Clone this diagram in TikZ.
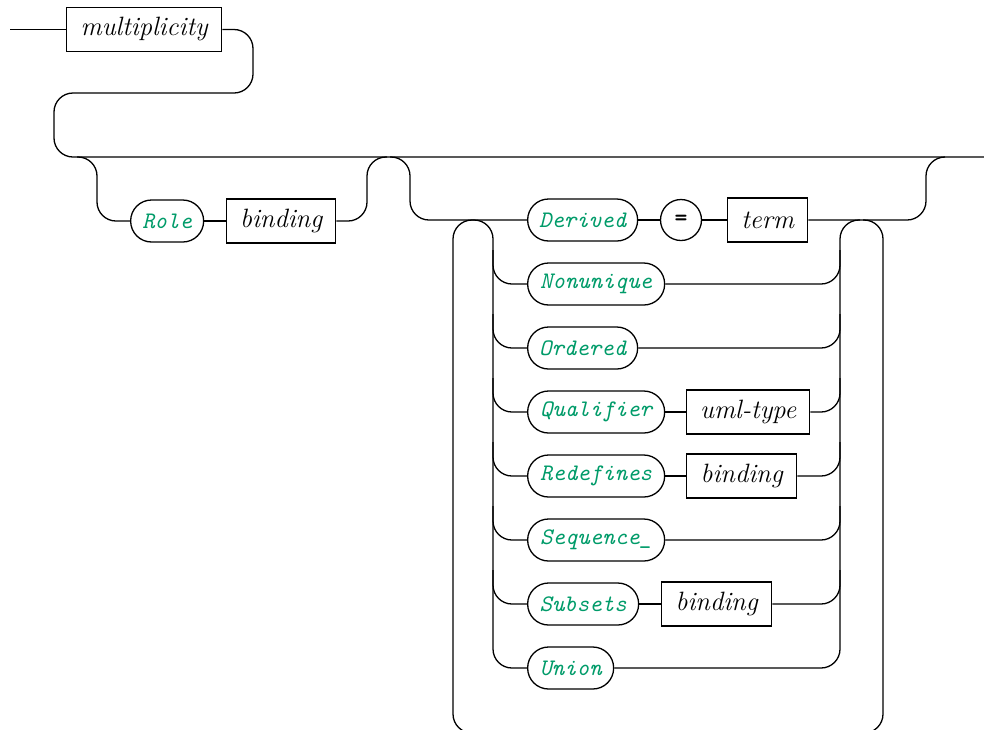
\documentclass[tikz,border=0pt]{standalone}
\usepackage{fontspec}
\definecolor{kwgreen}{RGB}{0,155,105}
\tikzset{
  rc/.style={rounded corners=19pt},
  ntbox/.style={draw, line width=1.3pt, rectangle, minimum height=44pt, inner sep=0pt,
    anchor=west, font=\rmfamily\itshape\fontsize{26.5}{30}\selectfont},
  kwbox/.style={draw, line width=1.3pt, rounded corners=20.9pt, minimum height=42pt, inner sep=0pt,
    anchor=west, text=kwgreen, font=\ttfamily\itshape\fontsize{23.7}{28}\selectfont},
  symcirc/.style={draw, line width=1.3pt, circle, minimum size=41pt, inner sep=0pt,
    font=\ttfamily\bfseries\fontsize{24.5}{28}\selectfont},
}
\begin{document}
\begin{tikzpicture}[x=1pt, y=-1pt]
\useasboundingbox (0,0) rectangle (984,729);

% first line
\coordinate (start) at (10,29.5);
\node[ntbox, minimum width=155pt] (mult) at (66,29.5) {multiplicity};
\coordinate (finish) at (984,157);

% optional role part
\node[kwbox, minimum width=73pt] (role) at (130,221) {Role};
\node[ntbox, minimum width=109pt] (bindA) at (226,221) {binding};

% repeated choice of properties
\node[kwbox, minimum width=110pt] (derived) at (527,220) {Derived};
\node[symcirc] (eq) at (681,220) {=};
\node[ntbox, minimum width=80pt] (term) at (727,220) {term};
\node[kwbox, minimum width=137pt] (nonunique) at (527,284) {Nonunique};
\node[kwbox, minimum width=110pt] (ordered) at (527,348) {Ordered};
\node[kwbox, minimum width=137pt] (qualifier) at (527,412) {Qualifier};
\node[ntbox, minimum width=123pt] (umltype) at (686,412) {uml-type};
\node[kwbox, minimum width=137pt] (redefines) at (527,476) {Redefines};
\node[ntbox, minimum width=110pt] (bindB) at (686,476) {binding};
\node[kwbox, minimum width=137pt] (sequence) at (527,540) {Sequence\_};
\node[kwbox, minimum width=111pt] (subsets) at (527,604) {Subsets};
\node[ntbox, minimum width=110pt] (bindC) at (661,604) {binding};
\node[kwbox, minimum width=86pt] (union) at (527,668) {Union};

\begin{scope}[line width=1.3pt, rc]
  % entry and the wrap to the main line
  \draw (start) -- (mult.west);
  \draw (mult.east) -- (253,29.5) -- (253,93) -- (54,93) -- (54,157) -- (finish);

  % optional role branch
  \draw (77,157) -- (97,157) -- (97,221) -- (role.west);
  \draw (role.east) -- (bindA.west);
  \draw (bindA.east) -- (367,221) -- (367,157) -- (387,157);

  % optional repeated group: entry and exit
  \draw (390,157) -- (410,157) -- (410,220) -- (derived.west);
  \draw (derived.east) -- (eq.west);
  \draw (eq.east) -- (term.west);
  \draw (term.east) -- (926,220) -- (926,157) -- (945,157);

  % left rail of the choice
  \draw (473,220) -- (493,220) -- (493,668) -- (union.west);
  \draw (493,250) -- (493,284) -- (nonunique.west);
  \draw (493,314) -- (493,348) -- (ordered.west);
  \draw (493,378) -- (493,412) -- (qualifier.west);
  \draw (493,442) -- (493,476) -- (redefines.west);
  \draw (493,506) -- (493,540) -- (sequence.west);
  \draw (493,570) -- (493,604) -- (subsets.west);

  % alternatives with a second item
  \draw (qualifier.east) -- (umltype.west);
  \draw (redefines.east) -- (bindB.west);
  \draw (subsets.east) -- (bindC.west);

  % right rail of the choice
  \draw (union.east) -- (840,668) -- (840,220) -- (860,220);
  \draw (nonunique.east) -- (840,284) -- (840,250);
  \draw (ordered.east) -- (840,348) -- (840,314);
  \draw (umltype.east) -- (840,412) -- (840,378);
  \draw (bindB.east) -- (840,476) -- (840,442);
  \draw (sequence.east) -- (840,540) -- (840,506);
  \draw (bindC.east) -- (840,604) -- (840,570);

  % repetition loop
  \draw (863,220) -- (883,220) -- (883,733) -- (453,733) -- (453,220) -- (473,220);
\end{scope}
\end{tikzpicture}
\end{document}
